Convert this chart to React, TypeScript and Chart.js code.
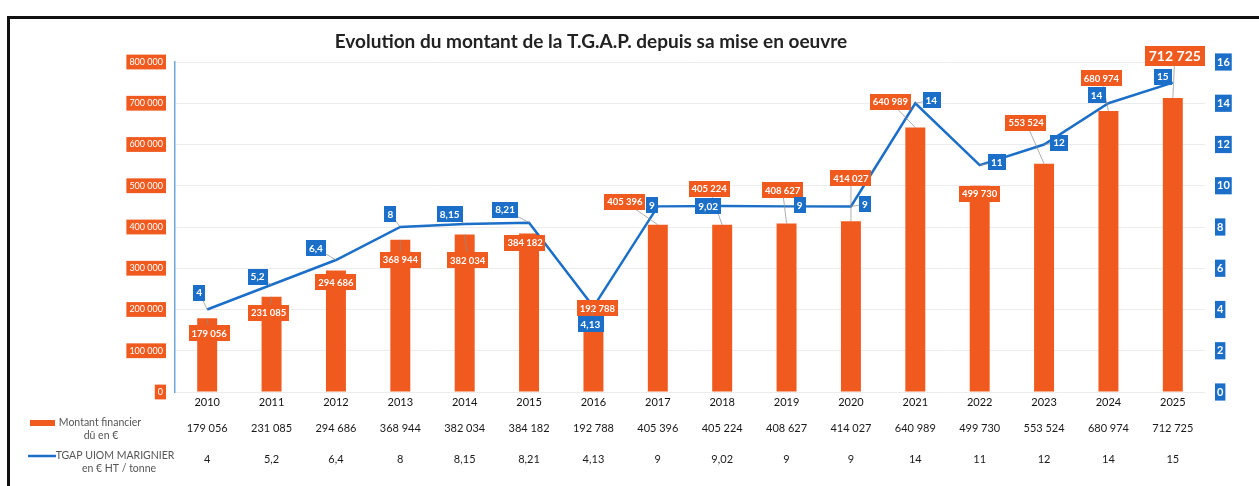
import React, { useEffect, useRef } from "react";
import { Chart, registerables } from "chart.js";

Chart.register(...registerables);

const TITLE = "Evolution du montant de la T.G.A.P. depuis sa mise en oeuvre";
const years = ["2010", "2011", "2012", "2013", "2014", "2015", "2016", "2017", "2018", "2019", "2020", "2021", "2022", "2023", "2024", "2025"];
const montant = [179056, 231085, 294686, 368944, 382034, 384182, 192788, 405396, 405224, 408627, 414027, 640989, 499730, 553524, 680974, 712725];
const tgap = [4, 5.2, 6.4, 8, 8.15, 8.21, 4.13, 9, 9.02, 9, 9, 14, 11, 12, 14, 15];
const legendMontant = ["Montant financier", "dû en €"];
const legendTgap = ["TGAP UIOM MARIGNIER", "en € HT / tonne"];

// label placement offsets (px) relative to the element anchor
const barLabelOffsets = [[2, 15], [-3, 16], [0, 12], [0, 20], [3, 26], [-4, 9], [4, -4], [-33, -23], [-13, -36], [-4, -33], [0, -43], [-25, -26], [0, 8], [-18, -41], [-7, -33], [2, -42]];
const lineLabelOffsets = [[-8, -17], [-14, -8], [-20, -12], [-10, -13], [-15, -10], [-24, -13], [-3, 17], [-6, -1], [-14, 0], [13, -1], [14, -2], [16, -3], [17, -3], [15, -2], [-12, -8], [-10, -6]];

const ORANGE = "#f05a1e";
const BLUE = "#1b6fc8";
const FONT = "Lato, 'Open Sans', sans-serif";

const fmtInt = (v: number) => String(v).replace(/\B(?=(\d{3})+(?!\d))/g, " ");
const fmtDec = (v: number) => String(v).replace(".", ",");

function drawBox(ctx: CanvasRenderingContext2D, ax: number, ay: number, cx: number, cy: number, text: string, bg: string, font: string, padX: number, h: number) {
  ctx.font = font;
  const w = ctx.measureText(text).width + padX * 2;
  if (Math.hypot(cx - ax, cy - ay) > 14) {
    ctx.strokeStyle = "rgba(140,140,140,0.7)";
    ctx.lineWidth = 1;
    ctx.beginPath();
    ctx.moveTo(cx, cy);
    ctx.lineTo(ax, ay);
    ctx.stroke();
  }
  ctx.fillStyle = bg;
  ctx.fillRect(Math.round(cx - w / 2), Math.round(cy - h / 2), Math.round(w), h);
  ctx.fillStyle = "#ffffff";
  ctx.textAlign = "center";
  ctx.textBaseline = "middle";
  ctx.fillText(text, cx, cy + 0.5);
}

const labelsPlugin = {
  id: "dataLabels",
  afterDatasetsDraw(chart: any) {
    const ctx = chart.ctx as CanvasRenderingContext2D;
    const barMeta = chart.getDatasetMeta(0);
    const lineMeta = chart.getDatasetMeta(1);
    ctx.save();
    barMeta.data.forEach((el: any, i: number) => {
      const big = i === montant.length - 1;
      const [dx, dy] = barLabelOffsets[i];
      drawBox(ctx, el.x, el.y, el.x + dx, el.y + dy, fmtInt(montant[i]), ORANGE, big ? `bold 14px ${FONT}` : `bold 9.5px ${FONT}`, big ? 4 : 3, big ? 20 : 16);
    });
    lineMeta.data.forEach((el: any, i: number) => {
      const [dx, dy] = lineLabelOffsets[i];
      drawBox(ctx, el.x, el.y, el.x + dx, el.y + dy, fmtDec(tgap[i]), BLUE, `bold 10px ${FONT}`, 3, 16);
    });
    ctx.restore();
  },
};

const tablePlugin = {
  id: "dataTable",
  afterDraw(chart: any) {
    const ctx = chart.ctx as CanvasRenderingContext2D;
    const xs = chart.scales.x;
    ctx.save();
    // title
    ctx.textAlign = "center";
    ctx.textBaseline = "middle";
    ctx.fillStyle = "#222222";
    ctx.font = `bold 19px ${FONT}`;
    ctx.fillText(TITLE, 591, 42);
    // data table
    ctx.font = `11px ${FONT}`;
    ctx.fillStyle = "#1a1a1a";
    years.forEach((_, i) => {
      const x = xs.getPixelForValue(i);
      ctx.fillText(fmtInt(montant[i]), x, 428);
      ctx.fillText(fmtDec(tgap[i]), x, 459);
    });
    // legend keys
    ctx.fillStyle = ORANGE;
    ctx.fillRect(30, 420, 25, 6);
    ctx.strokeStyle = BLUE;
    ctx.lineWidth = 2.5;
    ctx.beginPath();
    ctx.moveTo(28, 456);
    ctx.lineTo(56, 456);
    ctx.stroke();
    ctx.fillStyle = "#555555";
    ctx.font = `10.5px ${FONT}`;
    ctx.fillText(legendMontant[0], 100, 423);
    ctx.fillText(legendMontant[1], 101, 436);
    ctx.fillText(legendTgap[0], 115, 456);
    ctx.fillText(legendTgap[1], 119, 469);
    ctx.restore();
  },
};

export default function App() {
  const canvasRef = useRef<HTMLCanvasElement | null>(null);

  useEffect(() => {
    if (!canvasRef.current) return;
    const chart = new Chart(canvasRef.current, {
      type: "bar",
      data: {
        labels: years,
        datasets: [
          {
            type: "bar",
            label: "Montant financier dû en €",
            data: montant,
            backgroundColor: ORANGE,
            barPercentage: 0.31,
            categoryPercentage: 1,
            yAxisID: "y",
            order: 2,
          },
          {
            type: "line",
            label: "TGAP UIOM MARIGNIER en € HT / tonne",
            data: tgap,
            borderColor: BLUE,
            backgroundColor: BLUE,
            borderWidth: 2.5,
            pointRadius: 0,
            tension: 0,
            yAxisID: "y1",
            order: 1,
          },
        ],
      },
      options: {
        animation: false,
        responsive: true,
        maintainAspectRatio: false,
        layout: { padding: { left: 0, right: 0, top: 62, bottom: 0 } },
        plugins: {
          legend: { display: false },
          tooltip: { enabled: false },
          title: { display: false },
        },
        scales: {
          x: {
            grid: { display: false, drawTicks: false },
            border: { display: false },
            ticks: { color: "#111111", font: { family: FONT, size: 11 }, padding: 4, maxRotation: 0 },
            afterFit: (s: any) => { s.height = 94; },
          },
          y: {
            position: "left",
            min: 0,
            max: 800000,
            ticks: {
              stepSize: 100000,
              color: "#ffffff",
              font: { family: FONT, size: 9 },
              padding: 12,
              showLabelBackdrop: true,
              backdropColor: ORANGE,
              backdropPadding: { left: 3, right: 3, top: 2, bottom: 2 },
              callback: (v: any) => fmtInt(Number(v)),
            },
            grid: { color: "#ececec", drawTicks: false },
            border: { display: true, color: "#6fa8dc", width: 1.5 },
            afterFit: (s: any) => { s.width = 175; },
          },
          y1: {
            position: "right",
            min: 0,
            max: 16,
            ticks: {
              stepSize: 2,
              color: "#ffffff",
              font: { family: FONT, size: 11, weight: "bold" },
              padding: 12,
              showLabelBackdrop: true,
              backdropColor: BLUE,
              backdropPadding: { left: 2, right: 2, top: 2, bottom: 2 },
            },
            grid: { display: false, drawTicks: false },
            border: { display: false },
            afterFit: (s: any) => { s.width = 54; },
          },
        },
      } as any,
      plugins: [labelsPlugin, tablePlugin],
    });
    return () => chart.destroy();
  }, []);

  return (
    <div style={{ position: "fixed", left: 0, top: 0, width: 1259, height: 486, background: "#ffffff" }}>
      <canvas ref={canvasRef} />
      <div
        style={{
          position: "absolute",
          left: 7,
          top: 16,
          width: 1260,
          height: 480,
          borderTop: "3px solid #111",
          borderLeft: "3px solid #111",
          pointerEvents: "none",
        }}
      />
    </div>
  );
}
